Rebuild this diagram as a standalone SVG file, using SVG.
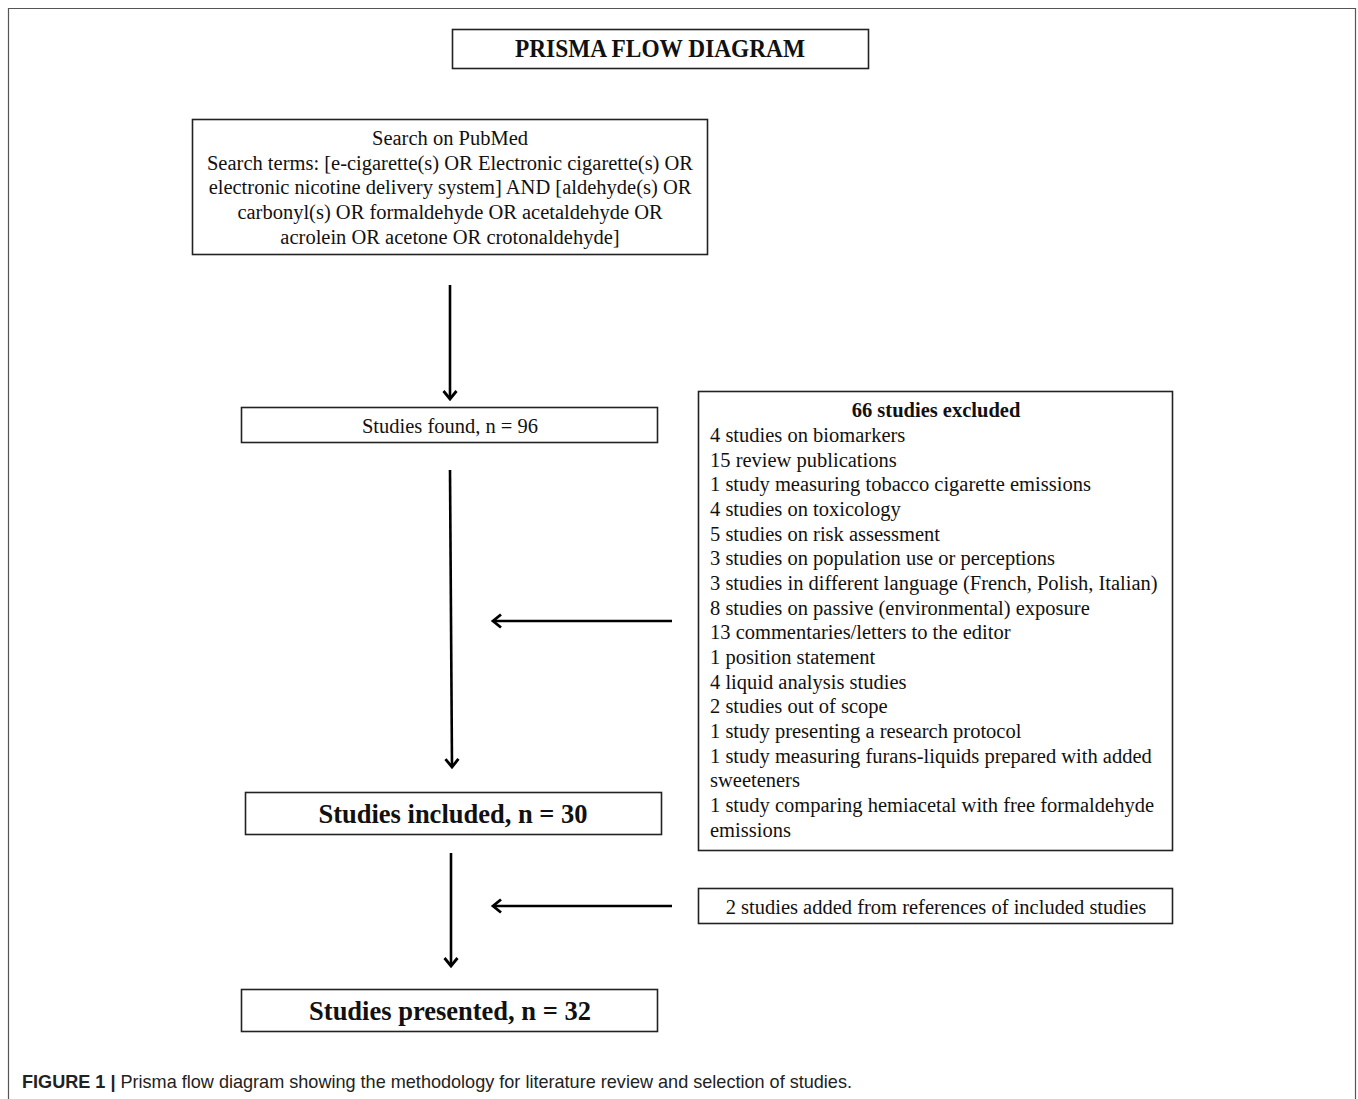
<svg xmlns="http://www.w3.org/2000/svg" width="1358" height="1099" viewBox="0 0 1358 1099">
<style>
.box{fill:#fff;stroke:#222;stroke-width:1.6}
.t{font-family:"Liberation Serif","Times New Roman",serif;font-size:20.5px;fill:#111}
.c{text-anchor:middle}
.b{font-weight:bold}
.big{font-size:26.5px}
.ttl{font-size:25px}
.arr{stroke:#000;stroke-width:2.6;fill:none;marker-end:url(#ah)}
.cap{font-family:"Liberation Sans",Arial,sans-serif;font-size:18.5px;fill:#222}
</style>
<defs>
<marker id="ah" markerUnits="userSpaceOnUse" markerWidth="20" markerHeight="20" refX="10" refY="10" orient="auto" viewBox="0 0 20 20">
<polyline points="2,3.5 10,10 2,16.5" fill="none" stroke="#000" stroke-width="2.8" stroke-linejoin="miter"/>
</marker>
</defs>
<rect width="1358" height="1099" fill="#fff"/>
<path d="M8.5,1099 V8.5 H1355.5 V1099" fill="none" stroke="#555" stroke-width="1.2"/>
<g id="title">
<rect class="box" x="452.5" y="29.5" width="416" height="39"/>
<text class="t c b ttl" x="660" y="57" textLength="290" lengthAdjust="spacingAndGlyphs">PRISMA FLOW DIAGRAM</text>
</g>
<g id="search">
<rect class="box" x="192.5" y="119.5" width="515" height="135"/>
<text class="t c" x="450" y="145">Search on PubMed</text>
<text class="t c" x="450" y="170">Search terms: [e-cigarette(s) OR Electronic cigarette(s) OR</text>
<text class="t c" x="450" y="194">electronic nicotine delivery system] AND [aldehyde(s) OR</text>
<text class="t c" x="450" y="219">carbonyl(s) OR formaldehyde OR acetaldehyde OR</text>
<text class="t c" x="450" y="244">acrolein OR acetone OR crotonaldehyde]</text>
</g>
<g id="found">
<rect class="box" x="241.5" y="407.5" width="416" height="35"/>
<text class="t c" x="450" y="433">Studies found, n = 96</text>
</g>
<g id="excluded">
<rect class="box" x="698.5" y="391.5" width="474" height="459"/>
<text class="t c b" x="936" y="417">66 studies excluded</text>
<text class="t" x="710" y="442">4 studies on biomarkers</text>
<text class="t" x="710" y="467">15 review publications</text>
<text class="t" x="710" y="491">1 study measuring tobacco cigarette emissions</text>
<text class="t" x="710" y="516">4 studies on toxicology</text>
<text class="t" x="710" y="541">5 studies on risk assessment</text>
<text class="t" x="710" y="565">3 studies on population use or perceptions</text>
<text class="t" x="710" y="590">3 studies in different language (French, Polish, Italian)</text>
<text class="t" x="710" y="615">8 studies on passive (environmental) exposure</text>
<text class="t" x="710" y="639">13 commentaries/letters to the editor</text>
<text class="t" x="710" y="664">1 position statement</text>
<text class="t" x="710" y="689">4 liquid analysis studies</text>
<text class="t" x="710" y="713">2 studies out of scope</text>
<text class="t" x="710" y="738">1 study presenting a research protocol</text>
<text class="t" x="710" y="763">1 study measuring furans-liquids prepared with added</text>
<text class="t" x="710" y="787">sweeteners</text>
<text class="t" x="710" y="812">1 study comparing hemiacetal with free formaldehyde</text>
<text class="t" x="710" y="837">emissions</text>
</g>
<g id="included">
<rect class="box" x="245.5" y="792.5" width="416" height="42"/>
<text class="t c b big" x="453" y="823">Studies included, n = 30</text>
</g>
<g id="added">
<rect class="box" x="698.5" y="888.5" width="474" height="35"/>
<text class="t c" x="936" y="914">2 studies added from references of included studies</text>
</g>
<g id="presented">
<rect class="box" x="241.5" y="989.5" width="416" height="42"/>
<text class="t c b big" x="450" y="1020">Studies presented, n = 32</text>
</g>
<g id="connectors">
<line class="arr" x1="450" y1="285" x2="450" y2="399"/>
<line class="arr" x1="450" y1="470" x2="452" y2="767"/>
<line class="arr" x1="672" y1="621" x2="493" y2="621"/>
<line class="arr" x1="451" y1="853" x2="451" y2="966"/>
<line class="arr" x1="672" y1="906" x2="493" y2="906"/>
</g>
<text class="cap" x="22" y="1088" textLength="830" lengthAdjust="spacingAndGlyphs"><tspan font-weight="bold">FIGURE 1 |</tspan> Prisma flow diagram showing the methodology for literature review and selection of studies.</text>
</svg>
